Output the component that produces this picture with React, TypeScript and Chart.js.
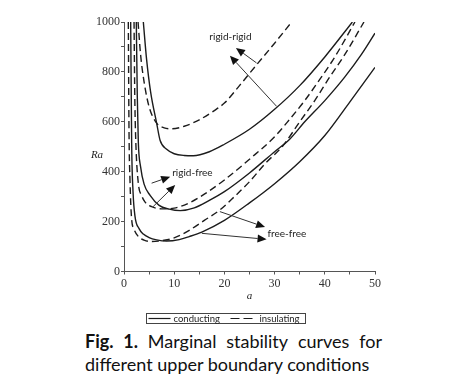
import React, { useEffect, useRef } from 'react';
import { Chart, registerables } from 'chart.js';
Chart.register(...registerables);

// ---- data (a = wave number, Ra = Rayleigh number) ----
const rrCondA = [3.85, 4.5, 5.3, 6.5, 7.2, 8.5, 10, 12, 13.8, 17, 20, 25, 30, 35, 40, 45.5];
const rrCondRa = [1000, 850, 720, 595, 525, 490, 472, 465, 464, 480, 510, 570, 650, 745, 860, 1000];

const rrInsA = [2.8, 3.3, 4.0, 5.0, 6.5, 8.0, 9.5, 12, 15, 18, 20, 23, 26.4, 30, 33.4];
const rrInsRa = [1000, 870, 760, 660, 595, 576, 572, 582, 608, 645, 675, 745, 828, 915, 1000];

const rfCondA = [2.45, 2.65, 2.85, 3.3, 4.0, 5.2, 7, 9, 11.2, 14, 17, 20, 25, 30, 33, 36, 40, 44, 47.3, 50];
const rfCondRa = [1000, 700, 520, 420, 350, 305, 265, 250, 244, 255, 285, 320, 395, 480, 530, 600, 685, 780, 870, 955];

const rfInsA = [2.0, 2.15, 2.35, 2.85, 3.5, 4.2, 5.5, 7.5, 10, 13, 16, 20, 25, 30, 33, 36, 39, 42, 46];
const rfInsRa = [1000, 700, 520, 354, 305, 278, 260, 251, 254, 275, 310, 367, 450, 540, 610, 685, 770, 860, 1000];

const ffCondA = [1.33, 1.53, 1.8, 2.2, 3.0, 3.85, 5.0, 6.5, 8.5, 11, 13, 15.5, 20, 25, 30, 35, 40, 45, 50];
const ffCondRa = [1000, 508, 320, 220, 172, 150, 136, 127, 122, 128, 140, 158, 205, 275, 352, 440, 545, 680, 818];

const ffInsA = [0.86, 1.0, 1.2, 1.5, 2.0, 2.85, 4.0, 5.5, 8, 10, 13, 16, 19, 22, 25, 28, 31.7, 35, 38, 41, 44, 47.8];
const ffInsRa = [1000, 560, 360, 215, 170, 140, 126, 120, 125, 135, 165, 205, 245, 300, 360, 430, 505, 600, 685, 780, 870, 1000];

// axis ranges / ticks
const xMin = 0, xMax = 50, xStep = 5, xLabelEvery = 10;
const yMin = 0, yMax = 1000, yStep = 100, yLabelEvery = 200;

// annotations (data coordinates)
const labelTexts = ['rigid-rigid', 'rigid-free', 'free-free'];
const labelA = [17.0, 9.6, 28.6];
const labelRa = [942, 394, 153];

const arrowTailA = [30.4, 26.4, 5.5, 5.8, 19.1, 15.5];
const arrowTailRa = [662, 836, 354, 260, 240, 153];
const arrowHeadA = [21.1, 22.3, 9.2, 10.2, 28.1, 28.4];
const arrowHeadRa = [865, 896, 380, 347, 178, 129];

const legendLabels = ['conducting', 'insulating'];

function pts(a: number[], r: number[]) {
  return a.map((v, i) => ({ x: v, y: r[i] }));
}

const INK = '#1c1c1c';
const SANS = "Lato, 'Open Sans', sans-serif";
const SERIF = "'Liberation Serif', 'DejaVu Serif', serif";

function ds(a: number[], r: number[], dashed: boolean) {
  return {
    data: pts(a, r),
    borderColor: INK,
    borderWidth: 1.4,
    borderDash: dashed ? [7, 4] : [],
    pointRadius: 0,
    fill: false,
    cubicInterpolationMode: 'monotone' as const,
  };
}

const annotPlugin = {
  id: 'annot',
  afterDraw(chart: any) {
    const { ctx, chartArea } = chart;
    const xs = chart.scales.x;
    const ys = chart.scales.y;
    ctx.save();
    // arrows
    ctx.strokeStyle = '#333';
    ctx.fillStyle = '#111';
    ctx.lineWidth = 1;
    for (let i = 0; i < arrowTailA.length; i++) {
      const x1 = xs.getPixelForValue(arrowTailA[i]);
      const y1 = ys.getPixelForValue(arrowTailRa[i]);
      const x2 = xs.getPixelForValue(arrowHeadA[i]);
      const y2 = ys.getPixelForValue(arrowHeadRa[i]);
      const ang = Math.atan2(y2 - y1, x2 - x1);
      const L = 9, W = 4;
      const bx = x2 - L * Math.cos(ang), by = y2 - L * Math.sin(ang);
      ctx.beginPath();
      ctx.moveTo(x1, y1);
      ctx.lineTo(bx, by);
      ctx.stroke();
      ctx.beginPath();
      ctx.moveTo(x2, y2);
      ctx.lineTo(bx + W * Math.sin(ang), by - W * Math.cos(ang));
      ctx.lineTo(bx - W * Math.sin(ang), by + W * Math.cos(ang));
      ctx.closePath();
      ctx.fill();
    }
    // labels
    ctx.fillStyle = '#222';
    ctx.font = `10px ${SANS}`;
    ctx.textBaseline = 'middle';
    ctx.textAlign = 'left';
    for (let i = 0; i < labelTexts.length; i++) {
      ctx.fillText(labelTexts[i], xs.getPixelForValue(labelA[i]), ys.getPixelForValue(labelRa[i]));
    }
    // axis titles
    ctx.font = `italic 11px ${SERIF}`;
    ctx.textAlign = 'center';
    ctx.fillText('Ra', chartArea.left - 27, ys.getPixelForValue(468));
    ctx.fillText('a', (chartArea.left + chartArea.right) / 2, chartArea.bottom + 25);
    // legend
    const lx = 146.5, ly = 313.5, lw = 159, lh = 10;
    ctx.strokeStyle = '#444';
    ctx.lineWidth = 1;
    ctx.setLineDash([]);
    ctx.strokeRect(lx, ly, lw, lh);
    const my = ly + lh / 2;
    ctx.strokeStyle = INK;
    ctx.lineWidth = 1.2;
    ctx.beginPath();
    ctx.moveTo(lx + 2, my);
    ctx.lineTo(lx + 24, my);
    ctx.stroke();
    ctx.font = `9.5px ${SANS}`;
    ctx.textAlign = 'left';
    ctx.fillStyle = '#222';
    ctx.fillText(legendLabels[0], lx + 27, my + 0.5);
    ctx.setLineDash([9, 4]);
    ctx.beginPath();
    ctx.moveTo(lx + 84, my);
    ctx.lineTo(lx + 109, my);
    ctx.stroke();
    ctx.setLineDash([]);
    ctx.fillText(legendLabels[1], lx + 113, my + 0.5);
    ctx.restore();
  },
};

export default function App() {
  const ref = useRef<HTMLCanvasElement>(null);
  useEffect(() => {
    const chart = new Chart(ref.current!, {
      type: 'line',
      data: {
        datasets: [
          ds(rrCondA, rrCondRa, false),
          ds(rrInsA, rrInsRa, true),
          ds(rfCondA, rfCondRa, false),
          ds(rfInsA, rfInsRa, true),
          ds(ffCondA, ffCondRa, false),
          ds(ffInsA, ffInsRa, true),
        ],
      },
      options: {
        animation: false,
        responsive: false,
        devicePixelRatio: 1,
        layout: { padding: { left: 0, top: 22, right: 101, bottom: 0 } },
        plugins: { legend: { display: false }, tooltip: { enabled: false } },
        scales: {
          x: {
            type: 'linear',
            min: xMin,
            max: xMax,
            afterFit: (s: any) => { s.height = 58.5; },
            border: { display: true, color: '#555', width: 1 },
            grid: { display: true, drawOnChartArea: false, drawTicks: true, tickLength: 3, color: '#555' },
            ticks: {
              stepSize: xStep,
              padding: 2,
              color: '#333',
              font: { family: SERIF, size: 12 },
              maxRotation: 0,
              autoSkip: false,
              callback: (v: any) => (Number(v) % xLabelEvery === 0 ? String(v) : ''),
            },
          },
          y: {
            type: 'linear',
            min: yMin,
            max: yMax,
            afterFit: (s: any) => { s.width = 124; },
            border: { display: true, color: '#555', width: 1 },
            grid: { display: true, drawOnChartArea: false, drawTicks: true, tickLength: 3, color: '#555' },
            ticks: {
              stepSize: yStep,
              padding: 1,
              color: '#333',
              font: { family: SERIF, size: 12 },
              autoSkip: false,
              callback: (v: any) => (Number(v) % yLabelEvery === 0 ? String(v) : ''),
            },
          },
        },
      },
      plugins: [annotPlugin],
    } as any);
    return () => chart.destroy();
  }, []);

  const capStyle: React.CSSProperties = {
    position: 'absolute',
    left: 85,
    width: 297,
    fontFamily: SANS,
    fontSize: 18,
    lineHeight: '23px',
    color: '#111',
    whiteSpace: 'nowrap',
  };

  return (
    <div style={{ position: 'absolute', left: 0, top: 0, width: 476, height: 386, background: '#fff', overflow: 'hidden' }}>
      <canvas ref={ref} width={476} height={330} style={{ position: 'absolute', left: 0, top: 0, width: 476, height: 330 }} />
      <div style={{ ...capStyle, top: 330, display: 'flex', justifyContent: 'space-between' }}>
        <span><b>Fig.</b></span>
        <span><b>1.</b></span>
        <span>Marginal</span>
        <span>stability</span>
        <span>curves</span>
        <span>for</span>
      </div>
      <div style={{ ...capStyle, top: 353 }}>different upper boundary conditions</div>
    </div>
  );
}
